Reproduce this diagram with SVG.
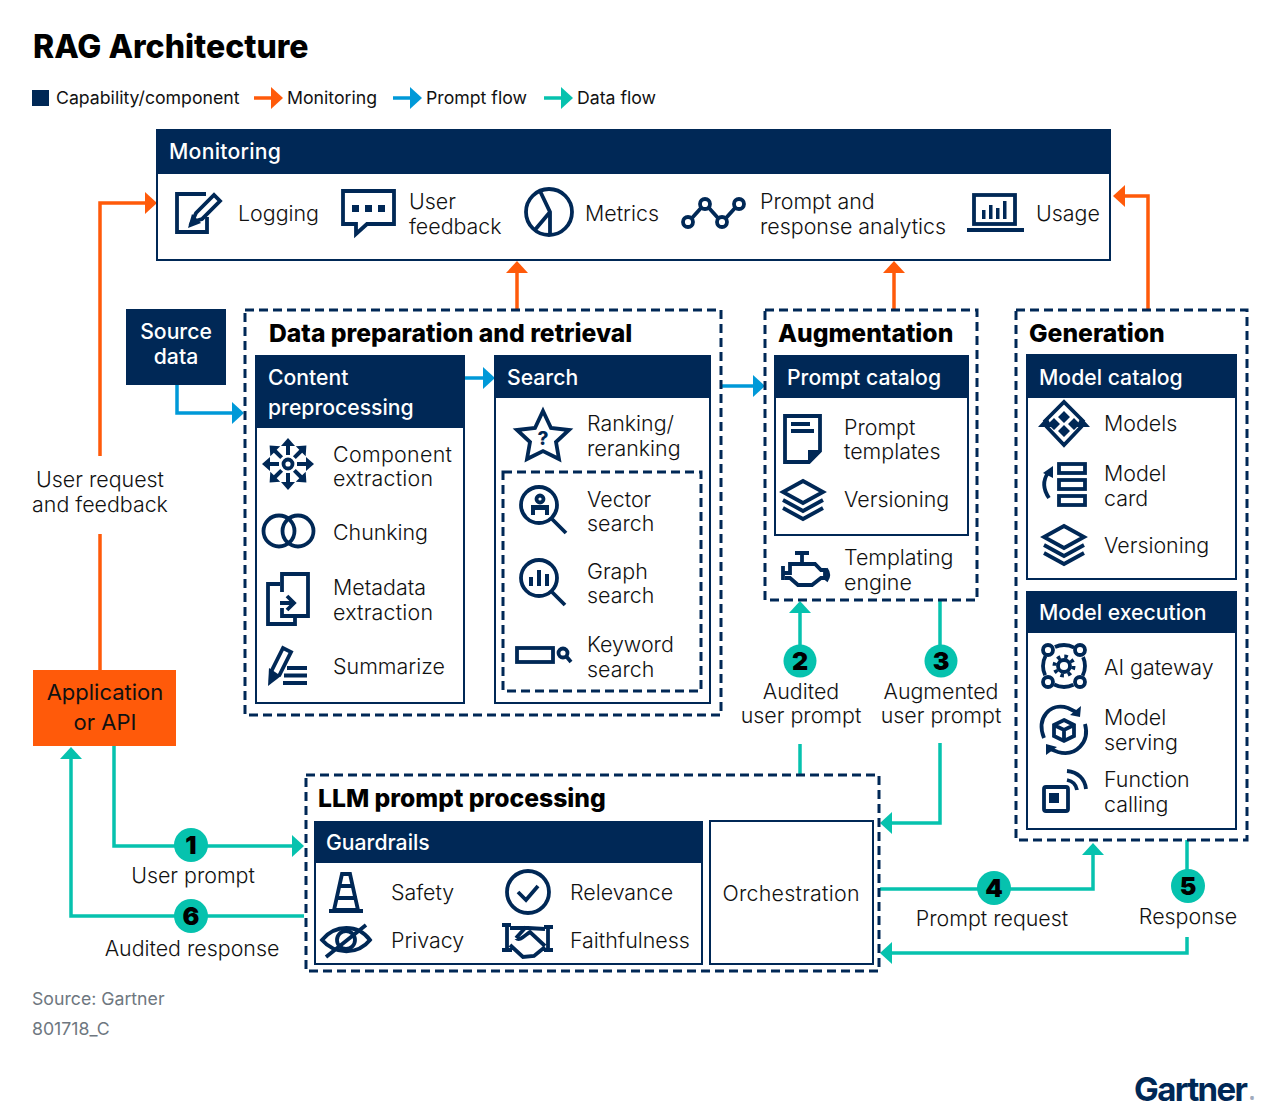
<svg xmlns="http://www.w3.org/2000/svg" width="1280" height="1115" viewBox="0 0 1280 1115">
<style>
text{font-family:"Inter","Liberation Sans",sans-serif;fill:#111;font-size:21.4px;font-weight:300}
.h{fill:#fff;font-weight:500;font-size:21.2px}
.a{font-weight:400;font-size:22px}
.t{font-weight:800;font-size:24.7px;fill:#000}
.l{font-size:17.7px;font-weight:400}
.c{text-anchor:middle}
.n{font-weight:900;font-size:25px;fill:#000;text-anchor:middle}
.s{fill:#6e7780;font-size:17.7px;font-weight:400}
.box{fill:#fff;stroke:#002856;stroke-width:2}
.hd{fill:#002856}
.dash{fill:none;stroke:#002856;stroke-width:3;stroke-dasharray:9 5}
.i{fill:none;stroke:#002856;stroke-width:3.8}
.f{fill:#002856;stroke:none}
.o{fill:none;stroke:#ff5a0a;stroke-width:3.5;marker-end:url(#ao)}
.b{fill:none;stroke:#0099d8;stroke-width:3.5;marker-end:url(#ab)}
.g{fill:none;stroke:#06c2ae;stroke-width:3.5;marker-end:url(#ag)}
.p{fill:none;stroke:#06c2ae;stroke-width:3.5}
.po{fill:none;stroke:#ff5a0a;stroke-width:3.5}
.d{fill:#06c2ae}
</style>
<defs>
<marker id="ao" markerUnits="userSpaceOnUse" markerWidth="14" markerHeight="22" refX="9" refY="11" orient="auto"><path d="M0 0L12 11L0 22Z" fill="#ff5a0a"/></marker>
<marker id="ab" markerUnits="userSpaceOnUse" markerWidth="14" markerHeight="22" refX="9" refY="11" orient="auto"><path d="M0 0L12 11L0 22Z" fill="#0099d8"/></marker>
<marker id="ag" markerUnits="userSpaceOnUse" markerWidth="14" markerHeight="22" refX="9" refY="11" orient="auto"><path d="M0 0L12 11L0 22Z" fill="#06c2ae"/></marker>
<g id="layers"><path class="i" d="M0 -19L20 -8L0 3L-20 -8Z"/><path class="i" d="M-20 0L0 11L20 0M-20 8L0 19L20 8"/></g>
<path id="spoke" class="f" d="M-2 -9H2V-18H7L0 -26L-7 -18H-2Z"/>
</defs>

<text x="33" y="58" style="font-size:32px;font-weight:800;fill:#000">RAG Architecture</text>

<g id="legend">
<rect x="32" y="90" width="17" height="16" fill="#002856"/>
<text class="l" x="56" y="104">Capability/component</text>
<path class="o" d="M254 98H280"/><text class="l" x="287" y="104">Monitoring</text>
<path class="b" d="M393 98H419"/><text class="l" x="426" y="104">Prompt flow</text>
<path class="g" d="M544 98H570"/><text class="l" x="577" y="104">Data flow</text>
</g>

<g id="connectors">
<path class="o" d="M100 456V203H154"/>
<path class="po" d="M100 534V670"/>
<path class="o" d="M517 309V264"/>
<path class="o" d="M894 309V264"/>
<path class="o" d="M1148 309V196H1116"/>
<path class="b" d="M177 384V413H241"/>
<path class="b" d="M464 378H492"/>
<path class="b" d="M721 386H762"/>
<path class="g" d="M114 746V846H301"/>
<path class="g" d="M304 916H71V750"/>
<path class="g" d="M800 645V604"/>
<path class="p" d="M800 744V775"/>
<path class="p" d="M940 600V645"/>
<path class="g" d="M940 743V823H883"/>
<path class="g" d="M880 889H1093V846"/>
<path class="p" d="M1187 840V870"/>
<path class="g" d="M1187 937V953H883"/>
</g>

<g id="monitoring">
<rect class="box" x="157" y="130" width="953" height="130"/>
<rect class="hd" x="156" y="129" width="955" height="45"/>
<text class="h" x="169" y="159" textLength="112">Monitoring</text>
<path class="i" d="M207 217V232H177V194H206"/>
<path class="i" d="M192 222L196 213L214 195L220 201L202 219Z"/><path class="f" d="M188 228L192 214L201 223Z"/>
<text x="238" y="221">Logging</text>
<path class="i" d="M343 191H394V224H367L356 234V224H343Z"/>
<rect class="f" x="352" y="205" width="7" height="7"/><rect class="f" x="365" y="205" width="7" height="7"/><rect class="f" x="378" y="205" width="7" height="7"/>
<text x="409" y="209">User</text><text x="409" y="234">feedback</text>
<circle class="i" cx="549" cy="212" r="23"/><path class="i" d="M540 191L550 212V235M550 212L534 231"/>
<text x="585" y="221">Metrics</text>
<path class="i" d="M692 218L701 208M709 208L718 218M726 218L735 208"/>
<circle class="i" cx="688" cy="222" r="5"/><circle class="i" cx="705" cy="204" r="5"/><circle class="i" cx="722" cy="222" r="5"/><circle class="i" cx="739" cy="204" r="5"/>
<text x="760" y="209">Prompt and</text><text x="760" y="234">response analytics</text>
<rect class="i" x="974" y="195" width="41" height="29"/><path class="i" d="M967 230H1024"/>
<rect class="f" x="982" y="210" width="3.5" height="9"/><rect class="f" x="989" y="205" width="3.5" height="14"/><rect class="f" x="996" y="208" width="3.5" height="11"/><rect class="f" x="1003" y="201" width="3.5" height="18"/>
<text x="1036" y="221">Usage</text>
</g>

<g id="source-data">
<rect class="hd" x="126" y="309" width="100" height="76"/>
<text class="h c" x="176" y="339">Source</text><text class="h c" x="176" y="364">data</text>
</g>

<g id="data-preparation">
<rect class="dash" x="245" y="310" width="476" height="405"/>
<text class="t" x="269" y="342">Data preparation and retrieval</text>
</g>

<g id="content-preprocessing">
<rect class="box" x="256" y="356" width="208" height="347"/>
<rect class="hd" x="255" y="355" width="210" height="73"/>
<text class="h" x="268" y="385">Content</text><text class="h" x="268" y="415">preprocessing</text>
<circle class="i" cx="288" cy="464" r="4.5"/>
<use href="#spoke" transform="translate(288 464)"/><use href="#spoke" transform="translate(288 464) rotate(45)"/><use href="#spoke" transform="translate(288 464) rotate(90)"/><use href="#spoke" transform="translate(288 464) rotate(135)"/><use href="#spoke" transform="translate(288 464) rotate(180)"/><use href="#spoke" transform="translate(288 464) rotate(225)"/><use href="#spoke" transform="translate(288 464) rotate(270)"/><use href="#spoke" transform="translate(288 464) rotate(315)"/>
<text x="333" y="462" textLength="119">Component</text><text x="333" y="486" textLength="100">extraction</text>
<circle class="i" cx="279" cy="531" r="15.500"/><circle class="i" cx="298" cy="531" r="15.500"/>
<text x="333" y="540" textLength="95">Chunking</text>
<path class="i" d="M282 592V574H308V616H282V608M280 584H268V624H295V617"/>
<path class="i" d="M280 603H293M287 596L294 603L287 610"/>
<text x="333" y="595" textLength="93">Metadata</text><text x="333" y="620" textLength="100">extraction</text>
<path class="i" d="M271 672L283 648L291 652L279 676"/><path class="f" d="M268 686L269 668L281 676Z"/><path class="i" d="M287 668H307M284 675.500H307M283 683H307"/>
<text x="333" y="674" textLength="112">Summarize</text>
</g>

<g id="search">
<rect class="box" x="495" y="356" width="215" height="347"/>
<rect class="hd" x="494" y="355" width="217" height="43"/>
<text class="h" x="507" y="385">Search</text>
<path class="i" d="M543 411L551 428L569 430L556 442L559 459L543 451L527 459L530 442L517 430L535 428Z"/>
<text x="543" y="445" text-anchor="middle" style="font-size:19px;font-weight:800;fill:#002856">?</text>
<text x="587" y="431">Ranking/</text><text x="587" y="456">reranking</text>
<rect class="dash" x="503" y="472" width="198" height="219"/>
<circle class="i" cx="539" cy="505" r="18"/><path class="i" d="M552 519L566 533"/>
<circle class="i" cx="540" cy="499" r="3.500" stroke-width="3"/><path class="f" d="M531 515V505H549V515H545V510H535V515Z"/>
<text x="587" y="507">Vector</text><text x="587" y="531">search</text>
<circle class="i" cx="539" cy="578" r="18"/><path class="i" d="M552 592L565 605"/>
<rect class="f" x="529" y="577" width="4" height="9"/><rect class="f" x="537" y="570" width="4" height="16"/><rect class="f" x="545" y="574" width="4" height="12"/>
<text x="587" y="579">Graph</text><text x="587" y="603">search</text>
<rect class="i" x="517" y="648" width="36" height="14"/><circle class="i" cx="563" cy="653" r="4.500"/><path class="i" d="M566 656L571 662"/>
<text x="587" y="652">Keyword</text><text x="587" y="677">search</text>
</g>

<g id="augmentation">
<rect class="dash" x="765" y="310" width="212" height="290"/>
<text class="t" x="778" y="342">Augmentation</text>
<rect class="box" x="775" y="356" width="193" height="179"/>
<rect class="hd" x="774" y="355" width="195" height="43"/>
<text class="h" x="787" y="385">Prompt catalog</text>
<path class="i" d="M785 416H820V451L809 462H785Z"/><path class="f" d="M821 450H808V463Z"/>
<path class="i" d="M791 424H810M791 431H814"/>
<text x="844" y="435">Prompt</text><text x="844" y="459">templates</text>
<use href="#layers" transform="translate(803 500)"/>
<text x="844" y="507">Versioning</text>
<path class="i" d="M795 553H809M802 553V563M783 566V580M783 573H790V564H815L821 570H825V578H821L812 585H798L790 578H785"/><path class="i" d="M826 569C829 573 829 577 826 581"/>
<text x="844" y="565">Templating</text><text x="844" y="590">engine</text>
</g>

<g id="generation">
<rect class="dash" x="1016" y="310" width="231" height="530"/>
<text class="t" x="1029" y="342">Generation</text>
</g>

<g id="model-catalog">
<rect class="box" x="1027" y="355" width="209" height="224"/>
<rect class="hd" x="1026" y="354" width="211" height="44"/>
<text class="h" x="1039" y="385">Model catalog</text>
<path class="i" d="M1044 422L1064 402L1084 422M1046 426L1064 445L1082 426"/>
<path class="f" d="M1038 427L1047 417L1052 427ZM1090 427L1081 417L1076 427Z"/>
<path class="f" d="M1064 411L1070 417L1064 423L1058 417ZM1054 418L1060 424L1054 430L1048 424ZM1074 418L1080 424L1074 430L1068 424ZM1064 425L1070 431L1064 437L1058 431Z"/>
<text x="1104" y="431">Models</text>
<rect class="i" x="1059" y="464" width="26" height="9"/><rect class="i" x="1059" y="480" width="26" height="9"/><rect class="i" x="1059" y="496" width="26" height="9"/>
<path class="i" d="M1049 498C1043 489 1043 480 1048 473" stroke-width="4.500"/><path class="f" d="M1043 473L1053 466L1053 478Z"/>
<text x="1104" y="481">Model</text><text x="1104" y="506">card</text>
<use href="#layers" transform="translate(1064 545)"/>
<text x="1104" y="553">Versioning</text>
</g>

<g id="model-execution">
<rect class="box" x="1027" y="592" width="209" height="237"/>
<rect class="hd" x="1026" y="591" width="211" height="42"/>
<text class="h" x="1039" y="620">Model execution</text>
<circle class="i" cx="1064" cy="666" r="21" stroke-dasharray="20 13" stroke-dashoffset="10"/>
<circle class="i" cx="1048" cy="650" r="5"/><circle class="i" cx="1080" cy="650" r="5"/><circle class="i" cx="1048" cy="682" r="5"/><circle class="i" cx="1080" cy="682" r="5"/>
<circle class="i" cx="1064" cy="666" r="6"/><circle cx="1064" cy="666" r="9.500" fill="none" stroke="#002856" stroke-width="4" stroke-dasharray="3.500 3.960"/>
<text x="1104" y="675">AI gateway</text>
<path class="i" d="M1044 738C1036 718 1050 702 1068 708L1076 712M1085 724C1090 742 1076 757 1058 752L1050 749"/>
<path class="f" d="M1081 706L1080 717L1070 715ZM1046 755L1046 744L1057 747Z"/>
<path class="i" d="M1064 720L1074 725V736L1064 741L1054 736V725ZM1054 725L1064 730L1074 725M1064 730V741"/>
<text x="1104" y="725">Model</text><text x="1104" y="750">serving</text>
<rect class="i" x="1044" y="787" width="24" height="24" rx="2"/><rect class="f" x="1049" y="793" width="10" height="10"/>
<path class="i" d="M1067 771C1078 772 1085 779 1086 789M1067 780C1072 781 1076 784 1077 790" stroke-width="4"/>
<text x="1104" y="787">Function</text><text x="1104" y="812">calling</text>
</g>

<g id="llm-prompt-processing">
<rect class="dash" x="306" y="775" width="573" height="196"/>
<text class="t" x="318" y="807">LLM prompt processing</text>
</g>

<g id="guardrails">
<rect class="box" x="315" y="822" width="387" height="142"/>
<rect class="hd" x="314" y="821" width="389" height="42"/>
<text class="h" x="326" y="850">Guardrails</text>
<path class="i" d="M342 874H350L358 910H334Z"/><path class="i" d="M338 886H354M336 898H357" stroke-width="4"/><path class="i" d="M329 911H363"/>
<text x="391" y="900">Safety</text>
<circle class="i" cx="528" cy="892" r="21"/><path class="i" d="M518 892L526 900L538 886"/>
<text x="570" y="900">Relevance</text>
<path class="i" d="M322 940C335 924 358 924 370 940C358 955 335 955 322 940Z"/><circle class="i" cx="346" cy="940" r="9"/><path class="i" d="M326 957L366 925"/>
<text x="391" y="948">Privacy</text>
<path class="i" d="M502 925H511M507 925V950M502 950H512M553 927H544M548 927V950M553 950H544M510 928H528L545 929M516 938L526 927M516 938C520 942 526 934 530 932L545 946M510 945L523 957L534 956L545 947"/>
<text x="570" y="948">Faithfulness</text>
</g>

<g id="orchestration">
<rect class="box" x="710" y="821" width="163" height="143"/>
<text class="c" x="791" y="901" textLength="137">Orchestration</text>
</g>

<g id="application">
<rect x="33" y="670" width="143" height="76" fill="#ff5a0a"/>
<text class="c a" x="105" y="700">Application</text><text class="c a" x="105" y="730">or API</text>
</g>

<g id="labels">
<text class="c" x="100" y="487">User request</text><text class="c" x="100" y="512">and feedback</text>
<circle class="d" cx="191" cy="845" r="17"/><text class="n" x="191" y="854">1</text>
<text class="c" x="193" y="883">User prompt</text>
<circle class="d" cx="191" cy="916" r="17"/><text class="n" x="191" y="925">6</text>
<text class="c" x="192" y="956">Audited response</text>
<circle class="d" cx="800" cy="661" r="16.500"/><text class="n" x="800" y="670">2</text>
<text class="c" x="801" y="699">Audited</text><text class="c" x="801" y="723">user prompt</text>
<circle class="d" cx="941" cy="661" r="16.500"/><text class="n" x="941" y="670">3</text>
<text class="c" x="941" y="699">Augmented</text><text class="c" x="941" y="723">user prompt</text>
<circle class="d" cx="994" cy="888" r="17"/><text class="n" x="994" y="897">4</text>
<text class="c" x="992" y="926">Prompt request</text>
<circle class="d" cx="1188" cy="886" r="17"/><text class="n" x="1188" y="895">5</text>
<text class="c" x="1188" y="924">Response</text>
</g>

<g id="footer">
<text class="s" x="32" y="1005">Source: Gartner</text>
<text class="s" x="32" y="1035">801718_C</text>
<text x="1134" y="1101" textLength="114" style="font-size:33px;font-weight:700;fill:#002856">Gartner</text>
<text x="1250" y="1101" style="font-size:6px;fill:#002856">®</text>
</g>
</svg>
